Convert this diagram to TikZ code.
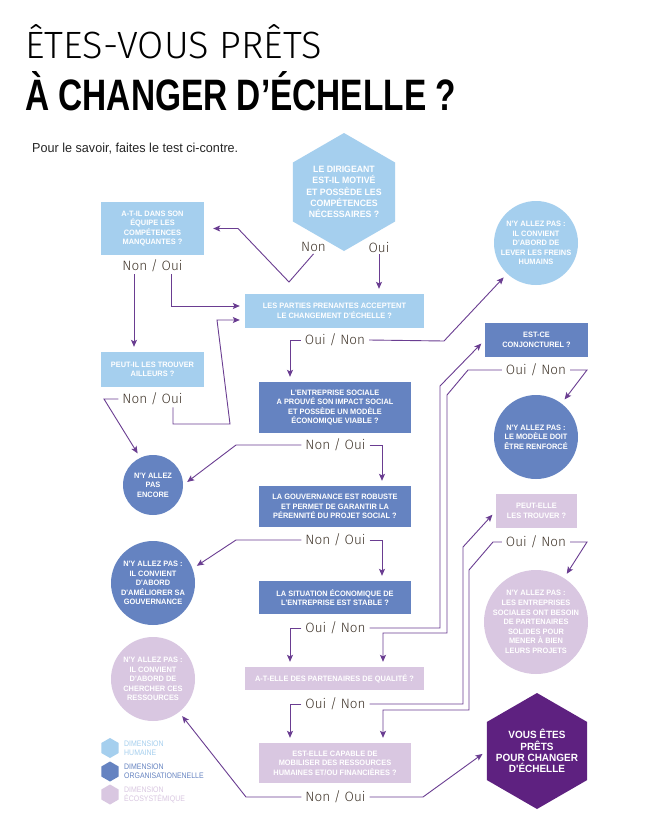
\documentclass[tikz,border=0pt]{standalone}
\usepackage{fontspec}
\usepackage{xcolor}
\setmainfont{Liberation Sans}
\newfontfamily\thinfont{Fira Sans Light}
\newfontfamily\condfont{Liberation Sans}[FakeStretch=0.95]
\newfontfamily\titlefam{Liberation Sans}[FakeStretch=0.76]
\newfontfamily\legendfam{Liberation Sans}[FakeStretch=0.87]
\newfontfamily\introfam{Liberation Sans}[FakeStretch=0.97]
\usetikzlibrary{shapes.geometric, arrows.meta}

\definecolor{humblue}{HTML}{A5CFEE}
\definecolor{orgblue}{HTML}{6583C1}
\definecolor{ecolav}{HTML}{D9C7E1}
\definecolor{readypurple}{HTML}{5E2180}
\definecolor{linkpurple}{HTML}{6A3D91}
\definecolor{penbrown}{HTML}{3F3429}

\newcommand{\boxfont}{\condfont\bfseries\fontsize{7.8}{9.6}\selectfont}
\newcommand{\hexfont}{\condfont\bfseries\fontsize{9.2}{11.2}\selectfont}
\newcommand{\readyfont}{\condfont\bfseries\fontsize{10.5}{11.2}\selectfont}
\newcommand{\penfont}{\thinfont\fontsize{13.5}{14}\selectfont}
\newcommand{\legendfont}{\legendfam\fontsize{8}{9}\selectfont}

\begin{document}
\begin{tikzpicture}[x=1pt, y=-1pt,
  qbox/.style={rectangle, inner sep=0pt, text=white, align=center, font=\boxfont},
  qcircle/.style={circle, inner sep=-8pt, text=white, align=center, font=\boxfont},
  qhex/.style={regular polygon, regular polygon sides=6, shape border rotate=90, inner sep=-8pt, text=white, align=center},
  pen/.style={font=\penfont, text=penbrown, inner xsep=4pt, inner ysep=2pt},
  flowline/.style={draw=linkpurple, line width=0.9pt, -{Stealth[length=7pt,width=6pt,inset=1.5pt]}, shorten >=5pt},
  legend/.style={anchor=west, align=left, inner sep=0pt, font=\legendfont}]

\fill[white] (0,0) rectangle (655,819);

% ==== Title ====
\node[anchor=base west, inner sep=0pt, font=\thinfont\fontsize{38}{38}\selectfont] (title1) at (25,58) {ÊTES-VOUS PRÊTS};
\node[anchor=base west, inner sep=0pt, font=\titlefam\bfseries\fontsize{44}{44}\selectfont] (title2) at (25,110) {À CHANGER D’ÉCHELLE ?};
\node[anchor=base west, inner sep=0pt, font=\introfam\fontsize{13}{13}\selectfont, text=black!85] (intro) at (32,152) {Pour le savoir, faites le test ci-contre.};

% ==== Questions ====
\node[qhex, fill=humblue, minimum size=118, font=\hexfont] (q1) at (344,192) {LE DIRIGEANT\\EST-IL MOTIVÉ\\ET POSSÈDE LES\\COMPÉTENCES\\NÉCESSAIRES ?};
\node[qbox, fill=humblue, minimum width=103, minimum height=53] (q2) at (152.5,228.5) {A-T-IL DANS SON\\ÉQUIPE LES\\COMPÉTENCES\\MANQUANTES ?};
\node[qbox, fill=humblue, minimum width=179, minimum height=34] (q3) at (334.5,311) {LES PARTIES PRENANTES ACCEPTENT\\LE CHANGEMENT D'ÉCHELLE ?};
\node[qbox, fill=humblue, minimum width=103, minimum height=35] (q2b) at (152.5,369.5) {PEUT-IL LES TROUVER\\AILLEURS ?};
\node[qbox, fill=orgblue, minimum width=152, minimum height=51] (q4) at (335,407.5) {L'ENTREPRISE SOCIALE\\A PROUVÉ SON IMPACT SOCIAL\\ET POSSÈDE UN MODÈLE\\ÉCONOMIQUE VIABLE ?};
\node[qbox, fill=orgblue, minimum width=103, minimum height=34] (q4b) at (536.5,340) {EST-CE\\CONJONCTUREL ?};
\node[qbox, fill=orgblue, minimum width=152, minimum height=41] (q5) at (335,506.5) {LA GOUVERNANCE EST ROBUSTE\\ET PERMET DE GARANTIR LA\\PÉRENNITÉ DU PROJET SOCIAL ?};
\node[qbox, fill=orgblue, minimum width=152, minimum height=33] (q6) at (335,597.5) {LA SITUATION ÉCONOMIQUE DE\\L'ENTREPRISE EST STABLE ?};
\node[qbox, fill=ecolav, minimum width=179, minimum height=23] (q7) at (334.5,678.5) {A-T-ELLE DES PARTENAIRES DE QUALITÉ ?};
\node[qbox, fill=ecolav, minimum width=81, minimum height=34] (q7b) at (536.5,511) {PEUT-ELLE\\LES TROUVER ?};
\node[qbox, fill=ecolav, minimum width=152, minimum height=40] (q8) at (335,763) {EST-ELLE CAPABLE DE\\MOBILISER DES RESSOURCES\\HUMAINES ET/OU FINANCIÈRES ?};

% ==== Answers ====
\node[qcircle, fill=humblue, minimum size=84] (c1) at (536,243) {N'Y ALLEZ PAS :\\IL CONVIENT\\D'ABORD DE\\LEVER LES FREINS\\HUMAINS};
\node[qcircle, fill=orgblue, minimum size=60] (c2) at (153,485) {N'Y ALLEZ\\PAS\\ENCORE};
\node[qcircle, fill=orgblue, minimum size=84] (c3) at (536,437) {N'Y ALLEZ PAS :\\LE MODÈLE DOIT\\ÊTRE RENFORCÉ};
\node[qcircle, fill=orgblue, minimum size=84] (c4) at (153,583) {N'Y ALLEZ PAS :\\IL CONVIENT\\D'ABORD\\D'AMÉLIORER SA\\GOUVERNANCE};
\node[qcircle, fill=ecolav, minimum size=104] (c5) at (536,622) {N'Y ALLEZ PAS :\\LES ENTREPRISES\\SOCIALES ONT BESOIN\\DE PARTENAIRES\\SOLIDES POUR\\MENER À BIEN\\LEURS PROJETS};
\node[qcircle, fill=ecolav, minimum size=84] (c6) at (153,679) {N'Y ALLEZ PAS :\\IL CONVIENT\\D'ABORD DE\\CHERCHER CES\\RESSOURCES};
\node[qhex, fill=readypurple, minimum size=116, font=\readyfont] (ready) at (537,751) {VOUS ÊTES\\PRÊTS\\POUR CHANGER\\D'ÉCHELLE};

% Labels
\node[pen] (nq1) at (313.5,247) {Non};
\node[pen] (oq1) at (379,247) {Oui};
\node[pen] (lq2) at (152.5,266) {Non / Oui};
\node[pen] (lq3) at (335,340) {Oui / Non};
\node[pen] (lq2b) at (152.5,399) {Non / Oui};
\node[pen] (lq4) at (335.5,445) {Non / Oui};
\node[pen] (lq4b) at (536,370) {Oui / Non};
\node[pen] (lq5) at (335.5,540) {Non / Oui};
\node[pen] (lq6) at (335.5,628) {Oui / Non};
\node[pen] (lq7) at (335.5,704) {Oui / Non};
\node[pen] (lq7b) at (536,542) {Oui / Non};
\node[pen] (lq8) at (335.5,797) {Non / Oui};

% Connectors
\draw[flowline, shorten >=9pt] (nq1.south) -- (289,282) -- (238,228.5) -- (q2.east);
\draw[flowline] (oq1.south) -- (oq1.south |- q3.north);
\draw[flowline] (lq2.south -| 134,0) -- (134,0 |- q2b.north);
\draw[flowline] (lq2.south -| 171,0) |- (q3.west |- 0,306);
\draw[flowline] (lq2b.west) -- (104,399) -- (c2.115);
\draw[flowline] (lq2b.south -| 173,0) |- (230,424) -- (217,320) -- (q3.west |- 0,320);
\draw[flowline] (lq3.west) -| (290,0 |- q4.north);
\draw[flowline] (lq3.east) -- (444,341) -- (c1);
\draw[flowline] (lq4.west) -- (236,445) -- (c2.east);
\draw[flowline] (lq4.east) -| (382,0 |- q5.north);
\draw[flowline] (lq4b.west) -- (468,370) -- (447,395) -- (447,633) -| (383,0 |- q7.north);
\draw[flowline] (lq4b.east) -- (587,370) -- (c3);
\draw[flowline] (lq5.west) -- (236,540) -- (c4.20);
\draw[flowline] (lq5.east) -| (382,0 |- q6.north);
\draw[flowline] (lq6.west) -| (290,0 |- q7.north);
\draw[flowline] (lq6.east) -| (440,386) -- (q4b.west);
\draw[flowline] (lq7.west) -| (290,0 |- q8.north);
\draw[flowline] (lq7.east) -| (463,547) -- (q7b.west);
\draw[flowline] (lq7b.west) -- (493,542) -- (469,570) -- (469,710) -| (383,0 |- q8.north);
\draw[flowline] (lq7b.east) -- (587,542) -- (c5);
\draw[flowline] (lq8.west) -- (246,797) -- (c6);
\draw[flowline] (lq8.east) -- (423,797) -- (ready.west);

% ==== Legend ====
\node[qhex, fill=humblue, minimum size=20] (hexhum) at (110,748) {};
\node[qhex, fill=orgblue, minimum size=20] (hexorg) at (110,771.5) {};
\node[qhex, fill=ecolav, minimum size=20] (hexeco) at (110,794.5) {};
\node[legend, text=humblue] (txthum) at (124,748) {DIMENSION\\HUMAINE};
\node[legend, text=orgblue] (txtorg) at (124,771.5) {DIMENSION\\ORGANISATIONENELLE};
\node[legend, text=ecolav] (txteco) at (124,794.5) {DIMENSION\\ÉCOSYSTÉMIQUE};

\end{tikzpicture}
\end{document}
